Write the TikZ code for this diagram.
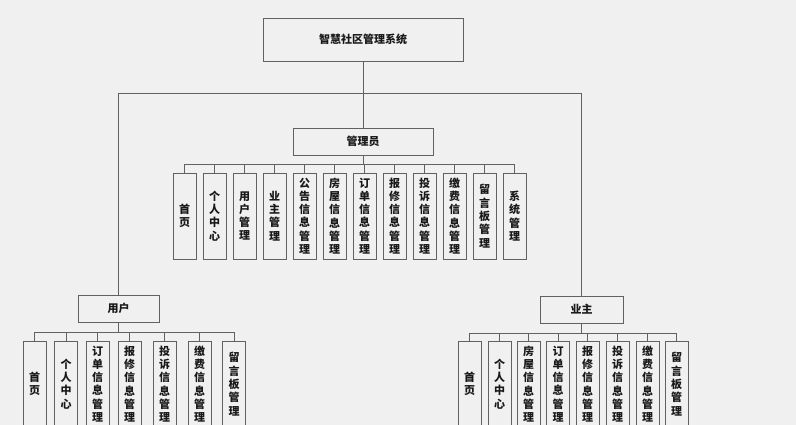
\documentclass[tikz,border=0pt]{standalone}
\usepackage{fontspec}
\setmainfont{Noto Sans CJK SC}
\begin{document}
\begin{tikzpicture}[x=1pt,y=-1pt,
  ln/.style={draw=black!62,line width=0.8pt},
  bx/.style={ln,inner sep=0pt,font=\fontsize{11}{13.3}\selectfont\bfseries,text=black!90},
  vbox/.style={bx,minimum width=23pt,minimum height=86pt,align=center},
  hbox/.style={bx,minimum height=27pt}]
\clip (0,0) rectangle (796,425);
\fill[black!6] (0,0) rectangle (796,425);
% top
\node[bx,minimum width=200pt,minimum height=43pt] (top) at (363,39.5) {智慧社区管理系统};
\node[hbox,minimum width=140pt] (admin) at (363,141.5) {管理员};
\node[hbox,minimum width=81pt] (user) at (118.5,308.5) {用户};
\node[hbox,minimum width=83pt] (owner) at (581.5,309.5) {业主};
\coordinate (hy) at (0,93);
\draw[ln] (top.south) -- (admin.north);
\draw[ln] (user.north) -- (user.north |- hy) -- (owner.north |- hy) -- (owner.north);
% admin children
\coordinate (ab) at (0,164);
\foreach \t [count=\i] in {首\\页,个\\人\\中\\心,用\\户\\管\\理,业\\主\\管\\理,公\\告\\信\\息\\管\\理,房\\屋\\信\\息\\管\\理,订\\单\\信\\息\\管\\理,报\\修\\信\\息\\管\\理,投\\诉\\信\\息\\管\\理,缴\\费\\信\\息\\管\\理,留\\言\\板\\管\\理,系\\统\\管\\理}{
  \node[vbox] (a\i) at ({154.5+30*\i},216) {\t};
  \draw[ln] (a\i.north) -- (a\i.north |- ab);
}
\draw[ln] (a1.north |- ab) -- (a12.north |- ab);
\draw[ln] (admin.south) -- (admin.south |- ab);
% user children
\coordinate (ub) at (0,332);
\foreach \x/\t [count=\i] in {34.5/首\\页,66/个\\人\\中\\心,97.5/订\\单\\信\\息\\管\\理,129.5/报\\修\\信\\息\\管\\理,164.5/投\\诉\\信\\息\\管\\理,199.5/缴\\费\\信\\息\\管\\理,234/留\\言\\板\\管\\理}{
  \node[vbox] (u\i) at (\x,384) {\t};
  \draw[ln] (u\i.north) -- (u\i.north |- ub);
}
\draw[ln] (u1.north |- ub) -- (u7.north |- ub);
\draw[ln] (user.south) -- (user.south |- ub);
% owner children
\coordinate (ob) at (0,333);
\foreach \x/\t [count=\i] in {469.5/首\\页,499.5/个\\人\\中\\心,528.5/房\\屋\\信\\息\\管\\理,558/订\\单\\信\\息\\管\\理,587.5/报\\修\\信\\息\\管\\理,617.5/投\\诉\\信\\息\\管\\理,647.5/缴\\费\\信\\息\\管\\理,676.5/留\\言\\板\\管\\理}{
  \node[vbox] (o\i) at (\x,384) {\t};
  \draw[ln] (o\i.north) -- (o\i.north |- ob);
}
\draw[ln] (o1.north |- ob) -- (o8.north |- ob);
\draw[ln] (owner.south) -- (owner.south |- ob);
\end{tikzpicture}
\end{document}
